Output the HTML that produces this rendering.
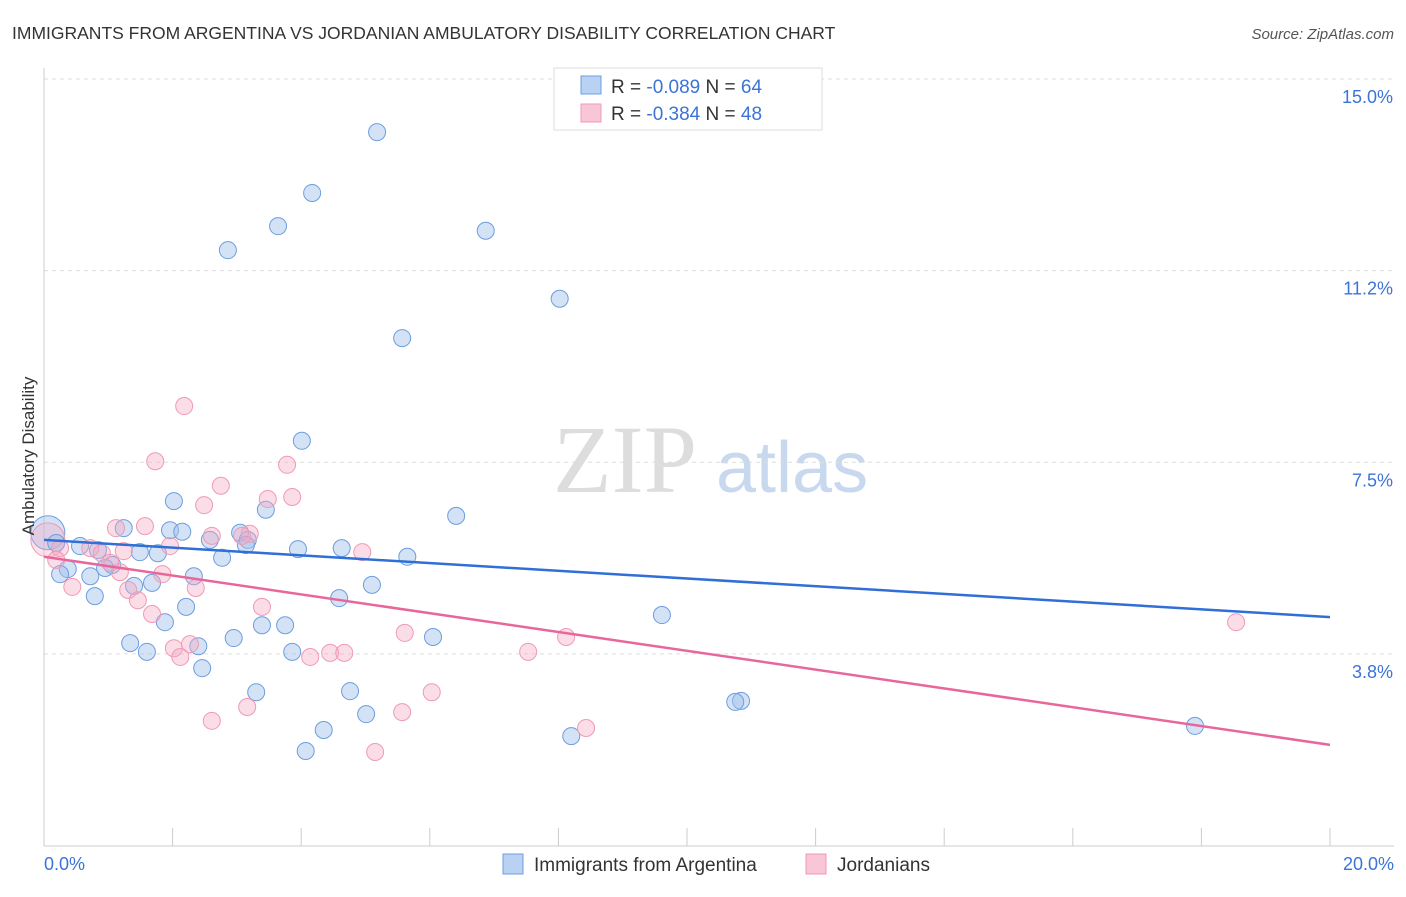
<!DOCTYPE html>
<html><head><meta charset="utf-8"><style>
body{margin:0;background:#fff;font-family:"Liberation Sans",sans-serif;}
</style></head><body>
<svg width="1406" height="892" xmlns="http://www.w3.org/2000/svg" font-family="Liberation Sans, sans-serif">
<text x="12" y="39" font-size="17.5" fill="#333">IMMIGRANTS FROM ARGENTINA VS JORDANIAN AMBULATORY DISABILITY CORRELATION CHART</text>
<text x="1394" y="39" font-size="15" fill="#555" font-style="italic" text-anchor="end">Source: ZipAtlas.com</text>
<g><text x="553" y="492" font-size="96" font-family="Liberation Serif, serif" fill="#ddd">ZIP</text><text x="716" y="492" font-size="72" fill="#c8d8ef">atlas</text></g>
<g id="grid"></g><g id="axes"></g><g id="pts"></g><g id="lines"></g>
<text transform="translate(34,456) rotate(-90)" font-size="17" fill="#333" text-anchor="middle">Ambulatory Disability</text>
<g>
<rect x="554" y="68" width="268" height="62" fill="#fff" stroke="#ddd"/>
<rect x="581" y="76" width="20" height="18" fill="#b9d1f3" stroke="#6d9de0"/>
<text x="611" y="93" font-size="19" fill="#333">R = <tspan fill="#3b74d6">-0.089</tspan>   N = <tspan fill="#3b74d6">64</tspan></text>
<rect x="581" y="104" width="20" height="18" fill="#f9c6d6" stroke="#f09ab5"/>
<text x="611" y="120" font-size="19" fill="#333">R = <tspan fill="#3b74d6">-0.384</tspan>   N = <tspan fill="#3b74d6">48</tspan></text>
</g>
<g>
<rect x="503" y="854" width="20" height="20" fill="#b9d1f3" stroke="#6d9de0"/>
<text x="534" y="871" font-size="19" fill="#333">Immigrants from Argentina</text>
<rect x="806" y="854" width="20" height="20" fill="#f9c6d6" stroke="#f09ab5"/>
<text x="837" y="871" font-size="19" fill="#333">Jordanians</text>
</g>
</svg>
<script>
const yTicks=[15.0,11.25,7.5,3.75];
const yTickLabels=["15.0%","11.2%","7.5%","3.8%"];
const blueX=[5.18,4.17,3.64,2.86,6.87,8.02,5.57,4.01,6.41,2.02,3.45,1.24,1.96,2.15,3.05,2.58,3.17,3.14,0.19,0.56,0.84,1.49,1.77,3.95,4.63,5.65,2.77,1.06,0.95,0.37,0.25,0.72,2.33,1.68,1.40,5.10,0.79,2.21,4.59,9.61,1.88,3.39,3.75,6.05,2.95,1.34,2.40,1.60,3.86,2.46,3.30,4.76,10.84,10.75,5.01,4.35,17.90,8.20,4.07];
const blueY=[13.96,12.77,12.12,11.65,12.03,10.70,9.93,7.92,6.45,6.74,6.57,6.21,6.17,6.14,6.12,5.98,5.98,5.88,5.92,5.86,5.78,5.74,5.72,5.80,5.82,5.65,5.63,5.49,5.43,5.41,5.31,5.27,5.27,5.14,5.08,5.10,4.88,4.67,4.84,4.51,4.37,4.31,4.31,4.08,4.06,3.96,3.90,3.79,3.79,3.47,3.00,3.02,2.83,2.81,2.57,2.26,2.34,2.14,1.85];
const pinkX=[2.18,1.73,3.78,2.75,3.86,3.48,2.49,3.20,3.08,2.61,1.57,1.12,1.96,4.95,0.25,0.72,1.24,0.19,0.90,1.03,1.18,1.84,2.36,1.31,0.44,1.46,1.68,3.39,5.61,8.12,2.02,2.27,2.12,4.14,4.45,4.67,7.53,18.54,6.03,3.16,5.57,2.61,8.43,5.15];
const pinkY=[8.60,7.52,7.45,7.04,6.82,6.78,6.66,6.10,6.06,6.06,6.25,6.21,5.86,5.74,5.82,5.82,5.76,5.59,5.72,5.53,5.35,5.31,5.04,5.00,5.06,4.80,4.53,4.67,4.16,4.08,3.86,3.94,3.69,3.69,3.77,3.77,3.79,4.37,3.00,2.71,2.61,2.44,2.30,1.83];
const blueTrend=[5.98,4.47];
const pinkTrend=[5.65,1.97];
const NS="http://www.w3.org/2000/svg";
const X=v=>44+v*64.3, Y=v=>79+(15-v)*51.1;
function mk(t,a,p){const e=document.createElementNS(NS,t);for(const k in a)e.setAttribute(k,a[k]);p.appendChild(e);return e;}
const grid=document.getElementById('grid'),axes=document.getElementById('axes'),pts=document.getElementById('pts'),lines=document.getElementById('lines');
yTicks.forEach((t,i)=>{
 const g=mk('line',{x1:44,x2:1394,y1:Y(t),y2:Y(t),stroke:'#ddd','stroke-dasharray':'4,4'},grid);
 
 
 const l=mk('text',{x:1393,y:Y(t)+24,'font-size':18,fill:'#3b74d6','text-anchor':'end'},axes);
 l.textContent=yTickLabels[i];
 
 
});
const ax=mk('line',{x1:44,x2:1394,y1:846,y2:846,stroke:'#ccc'},axes);


const ay=mk('line',{x1:44,x2:44,y1:68,y2:846,stroke:'#ccc'},axes);


for(let i=1;i<=10;i++){const t=mk('line',{x1:X(i*2),x2:X(i*2),y1:828,y2:846,stroke:'#ccc'},axes);
 
 }
[["0.0%",44,'start'],["20.0%",1394,'end']].forEach(a=>{const t=mk('text',{x:a[1],y:870,'font-size':18,fill:'#3b74d6','text-anchor':a[2]},axes);t.textContent=a[0];
 
 });
function big(x,y,f,s){const c=mk('circle',{cx:X(x),cy:Y(y),r:17,fill:f,stroke:s},pts);
 
 }
big(0.06,6.12,'rgba(160,190,235,0.45)','#6d9de0');big(0.06,5.98,'rgba(245,170,195,0.35)','#f09ab5');
blueX.forEach((x,i)=>{const c=mk('circle',{cx:X(x),cy:Y(blueY[i]),r:8.5,fill:'rgba(160,190,235,0.45)',stroke:'#6d9de0','stroke-width':1},pts);
 
 });
pinkX.forEach((x,i)=>{const c=mk('circle',{cx:X(x),cy:Y(pinkY[i]),r:8.5,fill:'rgba(245,170,195,0.4)',stroke:'#f09ab5','stroke-width':1},pts);
 
 });
const bl=mk('line',{x1:X(0),y1:Y(blueTrend[0]),x2:X(20),y2:Y(blueTrend[1]),stroke:'#2f6fd6','stroke-width':2.5},lines);


const pl=mk('line',{x1:X(0),y1:Y(pinkTrend[0]),x2:X(20),y2:Y(pinkTrend[1]),stroke:'#e8679a','stroke-width':2.5},lines);


</script>
</body></html>
